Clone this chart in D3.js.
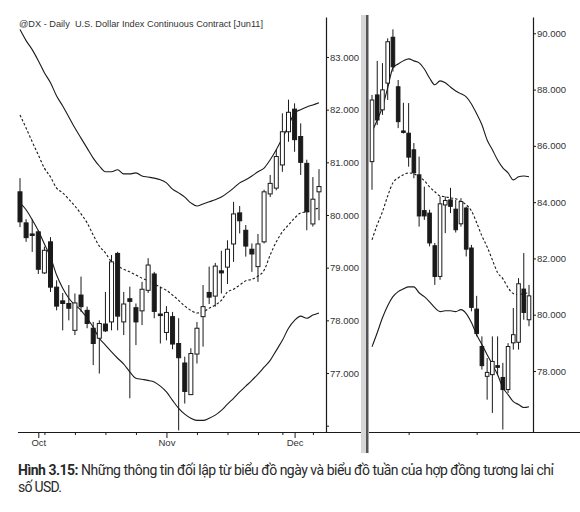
<!DOCTYPE html>
<html>
<head>
<meta charset="utf-8">
<script src="https://cdn.jsdelivr.net/npm/d3@7"></script>
<style>
  html, body { margin: 0; padding: 0; background: #fff; }
  svg { display: block; }
</style>
</head>
<body>
<svg id="chart" width="580" height="512"></svg>
<script>
// ---------------- DATA ----------------
// Daily candles (left panel), Sep 28 – Dec 7
const dailyOpen  = [80.44,79.85,79.64,79.68,78.90,79.49,78.63,78.37,78.32,77.81,78.48,78.19,77.85,77.66,77.93,77.97,79.27,77.97,78.41,78.24,78.18,78.57,78.88,78.12,77.77,78.07,77.56,77.19,76.59,77.36,78.07,78.53,78.46,78.94,79.01,79.45,80.04,79.71,79.35,79.02,79.49,80.40,80.51,80.95,81.58,82.01,81.49,80.98,79.83,80.44];
const dailyHigh  = [80.70,79.92,79.92,79.71,79.40,79.58,78.76,78.52,78.67,78.51,78.83,78.26,77.97,78.00,78.54,79.24,79.30,78.54,78.64,78.32,78.73,79.18,78.92,78.64,78.27,78.16,78.04,77.31,77.47,77.97,78.67,79.02,79.09,79.32,79.52,80.25,80.17,79.81,79.46,79.64,80.48,80.76,81.24,81.93,82.19,82.12,81.74,81.05,80.72,80.87];
const dailyLow   = [79.77,79.49,79.30,78.88,78.88,78.54,78.19,77.81,78.00,77.72,78.16,77.85,77.15,76.99,77.78,77.81,77.81,77.72,76.52,77.53,77.91,78.52,78.04,77.56,77.62,77.45,75.91,76.42,76.58,77.18,77.50,78.31,78.26,78.51,78.69,79.11,79.65,79.21,78.92,78.73,79.46,80.34,80.47,80.82,81.39,81.20,80.76,79.71,79.78,79.90];
const dailyClose = [79.87,79.57,79.62,78.97,79.33,78.63,78.27,78.32,78.23,78.33,78.26,77.94,77.56,77.94,77.80,79.11,78.08,78.31,78.36,77.97,78.59,79.05,78.17,78.09,78.15,77.55,77.29,76.65,77.37,77.85,78.26,78.44,79.03,78.90,79.35,80.02,79.89,79.41,79.26,79.45,80.44,80.60,81.11,81.58,81.95,81.43,81.00,80.06,80.30,80.54];
const dailyUpper = [83.52,83.31,83.14,82.93,82.70,82.51,82.26,82.07,81.86,81.65,81.46,81.27,81.08,80.93,80.82,80.82,80.86,80.78,80.78,80.80,80.74,80.72,80.70,80.67,80.61,80.49,80.42,80.34,80.23,80.17,80.21,80.25,80.29,80.34,80.42,80.51,80.61,80.67,80.74,80.82,80.89,81.05,81.24,81.46,81.69,81.94,82.00,82.05,82.09,82.13];
const dailyMid   = [81.90,81.65,81.39,81.14,80.89,80.72,80.51,80.42,80.30,80.17,80.02,79.85,79.62,79.41,79.28,79.11,79.03,78.97,78.92,78.86,78.80,78.75,78.69,78.63,78.57,78.48,78.38,78.27,78.19,78.14,78.16,78.23,78.29,78.38,78.54,78.59,78.67,78.75,78.78,78.84,78.95,79.24,79.49,79.68,79.81,79.94,80.04,80.06,80.10,80.13];
const dailyLower = [80.23,80.10,79.91,79.70,79.45,79.20,78.86,78.61,78.42,78.29,78.19,78.04,77.87,77.66,77.53,77.40,77.28,77.17,77.02,76.90,76.88,76.86,76.83,76.75,76.64,76.48,76.33,76.22,76.14,76.10,76.10,76.14,76.20,76.29,76.41,76.52,76.64,76.75,76.86,76.98,77.11,77.24,77.43,77.62,77.85,78.00,78.08,78.04,78.10,78.14];

// Weekly candles (right panel)
const weeklyOpen  = [85.44,87.81,87.28,88.23,89.86,88.10,86.53,86.45,85.86,84.97,83.70,83.61,82.45,81.36,83.90,84.08,83.75,83.23,83.79,82.37,80.20,78.87,77.81,77.87,78.19,77.77,77.34,79.00,79.02,80.91,79.82];
const weeklyHigh  = [87.81,89.02,88.94,89.82,90.14,88.34,87.53,87.52,86.10,85.62,84.55,83.73,82.55,84.20,84.20,84.51,84.08,84.14,83.84,82.48,80.67,79.23,78.46,79.23,79.23,78.29,78.99,80.24,81.30,82.19,81.06];
const weeklyLow   = [84.44,86.74,87.10,87.63,88.64,86.63,86.44,85.26,84.85,83.13,83.37,82.43,81.06,81.24,82.90,83.61,82.92,83.13,82.07,80.12,79.23,78.05,76.98,76.51,77.85,75.92,77.22,78.76,78.76,79.82,79.59];
const weeklyClose = [87.63,86.92,87.99,89.70,88.81,86.86,86.48,85.60,85.05,83.51,83.51,82.55,81.36,83.94,84.06,83.85,83.02,84.02,82.33,80.26,79.33,78.19,77.95,78.34,78.13,77.34,78.87,79.29,81.10,80.08,80.67];
const weeklyUpper = [86.50,86.92,87.38,88.06,88.77,88.91,89.02,89.09,89.02,88.95,88.73,88.41,88.17,88.31,88.24,88.09,87.95,87.85,87.74,87.49,87.14,86.75,86.21,85.86,85.50,85.22,85.04,84.79,84.90,84.93,84.90];
const weeklyMid   = [82.66,83.20,83.66,84.22,84.69,84.86,84.97,85.04,85.01,84.90,84.76,84.54,84.37,84.22,84.19,84.15,84.12,84.01,83.91,83.69,83.27,82.80,82.41,81.95,81.49,81.28,80.96,80.75,80.71,80.75,80.78];
const weeklyLower = [78.86,79.36,79.89,80.32,80.64,80.82,80.92,80.99,80.99,80.78,80.64,80.46,80.25,80.11,80.14,80.14,80.11,80.18,80.04,79.72,79.29,78.94,78.58,78.23,77.87,77.41,77.16,76.91,76.81,76.70,76.73];

// Tick labels / positions
const leftPriceTicks  = [76, 77, 78, 79, 80, 81, 82, 83];
const rightPriceTicks = [78, 80, 82, 84, 86, 88, 90];
const monthTickIdx    = [3, 24, 45];
const monthLabels     = ["Oct", "Nov", "Dec"];
const weekTickIdx     = [4, 9, 14, 19, 29, 34, 39, 43, 48];
const weeklyTickIdx   = [7, 20];

const titleText   = "@DX - Daily  U.S. Dollar Index Continuous Contract [Jun11]";
const captionBold = "Hình 3.15:";
const captionRest = " Những thông tin đối lập từ biểu đồ ngày và biểu đồ tuần của hợp đồng tương lai chỉ";
const caption2    = "số USD.";

// ---------------- DRAW ----------------
const svg = d3.select("#chart");
const fmt = d3.format(".3f");
const ink = "#1a1a1a";
const txt = "#333";
const axisFont = "'Liberation Sans', Arial, sans-serif";

// scales
const xL = d3.scaleLinear().domain([0, 49]).range([20, 319]);
const yL = d3.scaleLinear().domain([75.88, 83.759]).range([432, 17]);
const xR = d3.scaleLinear().domain([0, 30]).range([372, 529]);
const yR = d3.scaleLinear().domain([75.832, 90.579]).range([432, 17]);

function candles(g, O, H, L, C, x, y, bw) {
  const idx = d3.range(O.length);
  g.selectAll("line.wick").data(idx).join("line")
    .attr("class", "wick")
    .attr("x1", i => x(i)).attr("x2", i => x(i))
    .attr("y1", i => y(H[i])).attr("y2", i => y(L[i]))
    .attr("stroke", ink).attr("stroke-width", 1);
  g.selectAll("rect.body").data(idx).join("rect")
    .attr("class", "body")
    .attr("x", i => x(i) - bw / 2)
    .attr("width", bw)
    .attr("y", i => y(Math.max(O[i], C[i])))
    .attr("height", i => Math.max(1.5, Math.abs(y(O[i]) - y(C[i]))))
    .attr("fill", i => C[i] >= O[i] ? "#fff" : ink)
    .attr("stroke", ink).attr("stroke-width", 1);
}

function band(g, vals, x, y, dashed) {
  g.append("path")
    .datum(vals)
    .attr("fill", "none")
    .attr("stroke", ink)
    .attr("stroke-width", 1.1)
    .attr("stroke-dasharray", dashed ? "2.5,2" : null)
    .attr("d", d3.line().x((d, i) => x(i)).y(d => y(d)).curve(d3.curveMonotoneX));
}

// ---- left panel ----
const gL = svg.append("g");
band(gL, dailyUpper, xL, yL, false);
band(gL, dailyMid, xL, yL, true);
band(gL, dailyLower, xL, yL, false);
candles(gL.append("g"), dailyOpen, dailyHigh, dailyLow, dailyClose, xL, yL, 4);

// left price axis (on right side)
const axL = svg.append("g").attr("transform", "translate(326,0)")
  .call(d3.axisRight(yL).tickValues(leftPriceTicks).tickSize(3).tickSizeOuter(0)
    .tickFormat(d => d === 76 ? "" : fmt(d)));
axL.select(".domain").attr("stroke", ink).attr("stroke-width", 1.2);
axL.selectAll(".tick line").attr("stroke", ink);
axL.selectAll(".tick text").attr("x", 4).attr("fill", txt)
  .style("font-family", axisFont).style("font-size", "9.5px");

// left time axis
svg.append("line").attr("x1", 18).attr("x2", 361).attr("y1", 432.5).attr("y2", 432.5)
  .attr("stroke", ink).attr("stroke-width", 1.2);
const axMin = svg.append("g").attr("transform", "translate(0,432)")
  .call(d3.axisBottom(xL).tickValues(weekTickIdx).tickSize(3).tickFormat(""));
axMin.select(".domain").remove();
axMin.selectAll(".tick line").attr("stroke", ink);
const axMaj = svg.append("g").attr("transform", "translate(0,432)")
  .call(d3.axisBottom(xL).tickValues(monthTickIdx).tickSize(6)
    .tickFormat((d, i) => monthLabels[i]));
axMaj.select(".domain").remove();
axMaj.selectAll(".tick line").attr("stroke", ink);
axMaj.selectAll(".tick text").attr("y", 7).attr("fill", txt)
  .style("font-family", axisFont).style("font-size", "9.5px");

// title
svg.append("text").attr("x", 19).attr("y", 27)
  .style("white-space", "pre")
  .attr("fill", txt)
  .style("font-family", axisFont).style("font-size", "9.5px")
  .attr("textLength", 244).attr("lengthAdjust", "spacingAndGlyphs")
  .text(titleText);

// divider
svg.append("rect").attr("x", 361).attr("y", 15).attr("width", 5).attr("height", 438)
  .attr("fill", "#d6d6d6");
svg.append("rect").attr("x", 366).attr("y", 15).attr("width", 2.5).attr("height", 438)
  .attr("fill", "#555");

// ---- right panel ----
const gR = svg.append("g");
band(gR, weeklyUpper, xR, yR, false);
band(gR, weeklyMid, xR, yR, true);
band(gR, weeklyLower, xR, yR, false);
candles(gR.append("g"), weeklyOpen, weeklyHigh, weeklyLow, weeklyClose, xR, yR, 3.6);

const axR = svg.append("g").attr("transform", "translate(533,0)")
  .call(d3.axisRight(yR).tickValues(rightPriceTicks).tickSize(3).tickSizeOuter(0).tickFormat(fmt));
axR.select(".domain").attr("stroke", ink).attr("stroke-width", 1.2);
axR.selectAll(".tick line").attr("stroke", ink);
axR.selectAll(".tick text").attr("x", 4).attr("fill", txt)
  .style("font-family", axisFont).style("font-size", "9.5px");

svg.append("line").attr("x1", 369).attr("x2", 580).attr("y1", 432.5).attr("y2", 432.5)
  .attr("stroke", ink).attr("stroke-width", 1.2);
const axRW = svg.append("g").attr("transform", "translate(0,432)")
  .call(d3.axisBottom(xR).tickValues(weeklyTickIdx).tickSize(3).tickFormat(""));
axRW.select(".domain").remove();
axRW.selectAll(".tick line").attr("stroke", ink);

// caption (spread with letter-spacing to the reference width)
const capFont = "'Liberation Sans Narrow', 'Roboto', 'Liberation Sans', sans-serif";
function fitSpacing(sel, target, nChars) {
  const w = sel.node().getComputedTextLength();
  const ls = (target - w) / Math.max(1, nChars - 1);
  sel.style("letter-spacing", ls.toFixed(3) + "px");
}
const cap = svg.append("text").attr("x", 18).attr("y", 475)
  .attr("fill", "#2a2a2a")
  .style("white-space", "pre")
  .style("font-family", capFont).style("font-size", "14px");
cap.append("tspan").style("font-weight", "bold").text(captionBold);
cap.append("tspan").text(captionRest);
fitSpacing(cap, 536, (captionBold + captionRest).length);
const cap2 = svg.append("text").attr("x", 18).attr("y", 492)
  .attr("fill", "#2a2a2a")
  .style("font-family", capFont).style("font-size", "14px")
  .text(caption2);
fitSpacing(cap2, 44, caption2.length);
</script>
</body>
</html>
